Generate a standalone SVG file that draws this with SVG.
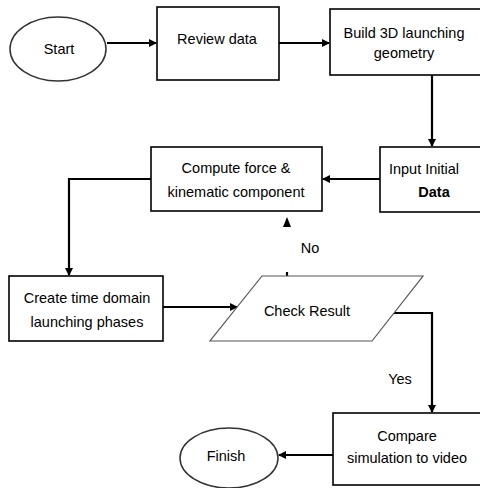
<svg xmlns="http://www.w3.org/2000/svg" width="480" height="488" viewBox="0 0 480 488">
<style>
.box{fill:#fff;stroke:#000;stroke-width:1.6}
.term{fill:#fff;stroke:#333;stroke-width:1.5}
.para{fill:#fff;stroke:#555;stroke-width:1.2}
.conn{fill:none;stroke:#000;stroke-width:2.2}
text{font-family:"Liberation Sans",Arial,sans-serif;font-size:14.5px;fill:#000;text-anchor:middle}
</style>
<defs>
<marker id="ah" markerWidth="8" markerHeight="8" refX="7" refY="4" orient="auto" markerUnits="userSpaceOnUse">
<path d="M0,0 L8,4 L0,8 z" fill="#000"/>
</marker>
</defs>
<rect width="480" height="488" fill="#fff"/>
<g id="connectors">
<path class="conn" d="M107,43 L156,43" marker-end="url(#ah)" stroke-width="3"/>
<path class="conn" d="M279,43 L329,43" marker-end="url(#ah)"/>
<path class="conn" d="M432,75 L432,146" marker-end="url(#ah)"/>
<path class="conn" d="M380,179 L323,179" marker-end="url(#ah)"/>
<path class="conn" d="M151,179 L69,179 L69,275" marker-end="url(#ah)"/>
<path class="conn" d="M163,307 L237,307" marker-end="url(#ah)" stroke-width="3"/>
<path class="conn" d="M393,313 L432,313 L432,412" marker-end="url(#ah)"/>
<path class="conn" d="M333,455 L279,455" marker-end="url(#ah)" stroke-width="3"/>
<path class="conn" d="M287,272 L287,276" stroke-width="1"/>
<path d="M283,227 L287,217 L291,227 z" fill="#000"/>
<text x="310" y="253">No</text>
<text x="400" y="384">Yes</text>
</g>
<g id="start">
<ellipse class="term" cx="58" cy="49" rx="48" ry="32"/>
<text x="59" y="54">Start</text>
</g>
<g id="review">
<rect class="box" x="157" y="7" width="122" height="73"/>
<text x="217" y="44">Review data</text>
</g>
<g id="build">
<rect class="box" x="330" y="9" width="152" height="66"/>
<text x="404" y="38">Build 3D launching</text>
<text x="404" y="58">geometry</text>
</g>
<g id="input">
<rect class="box" x="380" y="147" width="102" height="65"/>
<text x="424" y="174">Input Initial</text>
<text x="434" y="197" font-weight="bold">Data</text>
</g>
<g id="compute">
<rect class="box" x="151" y="147" width="171" height="64"/>
<text x="236" y="173">Compute force &amp;</text>
<text x="236" y="197">kinematic component</text>
</g>
<g id="create">
<rect class="box" x="9" y="276" width="154" height="65"/>
<text x="87" y="303">Create time domain</text>
<text x="87" y="327">launching phases</text>
</g>
<g id="check">
<polygon class="para" points="262,276 423,276 372,341 210,341"/>
<text x="307" y="316">Check Result</text>
</g>
<g id="compare">
<rect class="box" x="333" y="413" width="149" height="72"/>
<text x="407" y="441">Compare</text>
<text x="407" y="463">simulation to video</text>
</g>
<g id="finish">
<ellipse class="term" cx="229" cy="458" rx="49" ry="30"/>
<text x="226" y="461">Finish</text>
</g>
</svg>
